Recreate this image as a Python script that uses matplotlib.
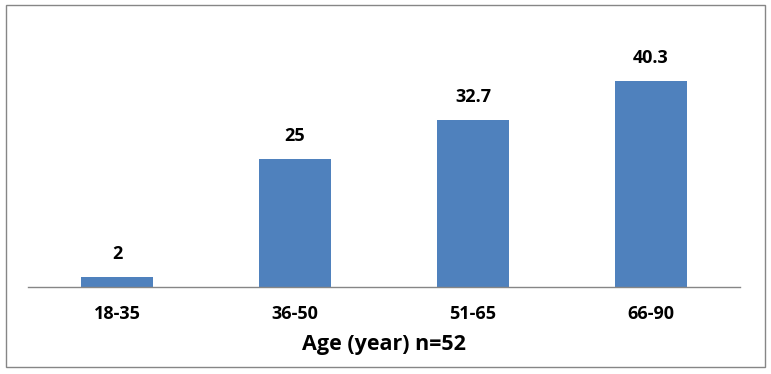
import matplotlib
matplotlib.use("Agg")
import matplotlib.pyplot as plt
from matplotlib.patches import Rectangle

age_groups = ["18-35", "36-50", "51-65", "66-90"]
percent = [2, 25, 32.7, 40.3]
value_labels = ["2", "25", "32.7", "40.3"]

plt.rcParams['font.family'] = ['Open Sans', 'DejaVu Sans']

fig = plt.figure(figsize=(7.71, 3.74), dpi=100)
ax = fig.add_axes([28 / 771, 87 / 374, 712 / 771, 230 / 374])

x = range(len(age_groups))
ax.bar(x, percent, width=0.4, color="#4F81BD")
for i, (v, lab) in enumerate(zip(percent, value_labels)):
    ax.annotate(lab, (i, v), xytext=(0, 10), textcoords="offset points",
                ha="center", va="bottom", fontsize=13, fontweight="bold")

ax.set_xlim(-0.5, 3.5)
ax.set_ylim(0, 45)
ax.set_xticks(list(x))
ax.set_xticklabels(age_groups, fontsize=13, fontweight="bold")
ax.tick_params(axis="x", length=0, pad=13)
ax.set_yticks([])
for s in ["top", "right", "left"]:
    ax.spines[s].set_visible(False)
ax.spines["bottom"].set_color("#868686")
ax.spines["bottom"].set_linewidth(1)
ax.set_xlabel("Age (year) n=52", fontsize=15.5, fontweight="bold", labelpad=8)

fig.patches.append(Rectangle((6 / 771, 7 / 374), 759 / 771, 362 / 374,
                             transform=fig.transFigure, fill=False,
                             edgecolor="#868686", linewidth=1))

fig.savefig("out.png", dpi=100)
